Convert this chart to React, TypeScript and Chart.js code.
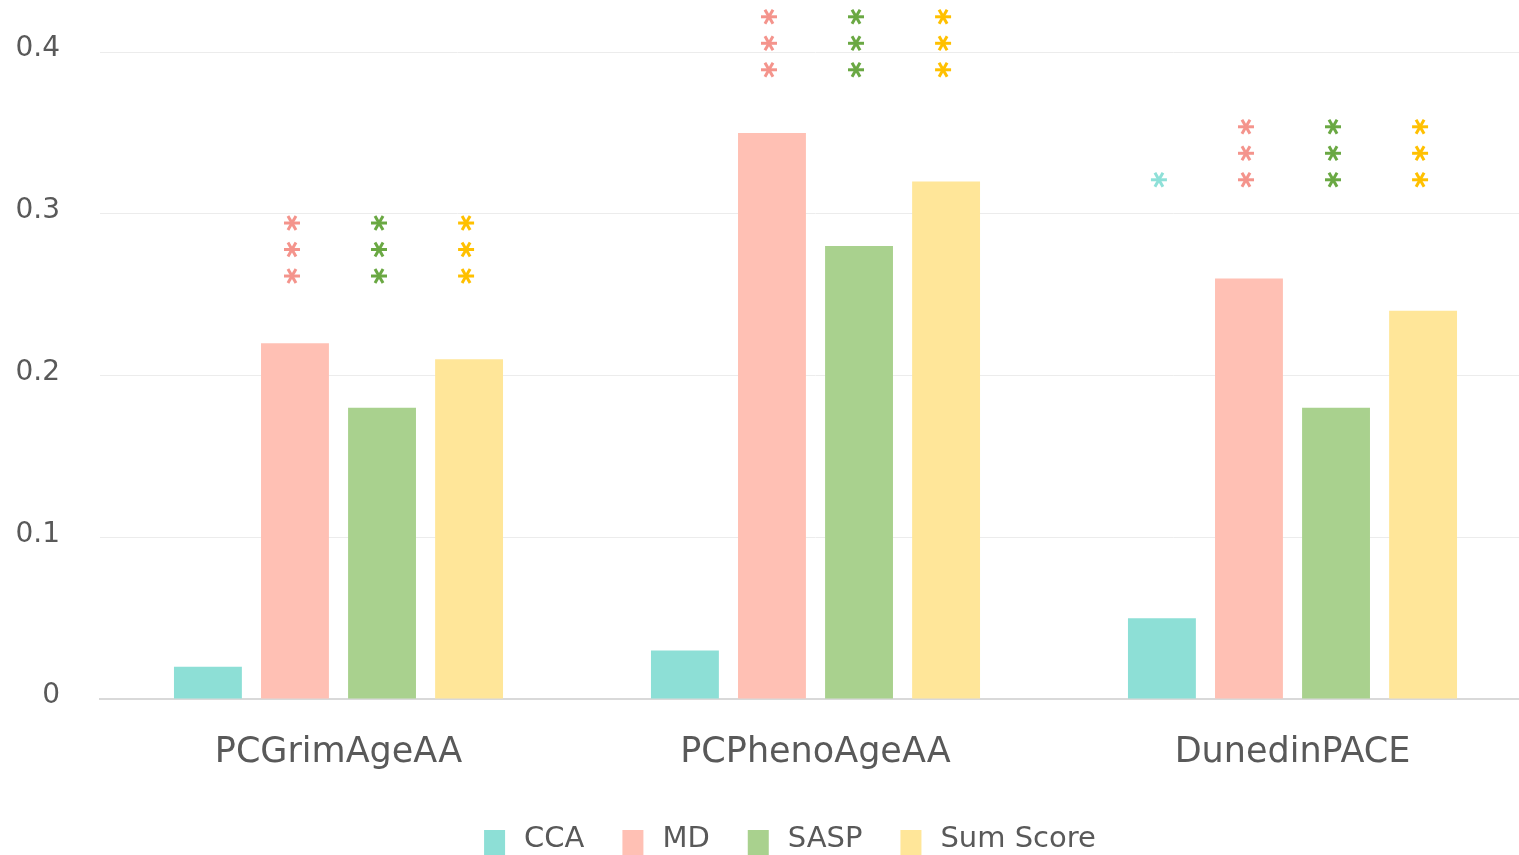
import React, { useEffect, useRef } from "react";
import { Chart, registerables } from "chart.js";

Chart.register(...registerables);

const categories = ["PCGrimAgeAA", "PCPhenoAgeAA", "DunedinPACE"];
const seriesNames = ["CCA", "MD", "SASP", "Sum Score"];
const ccaValues = [0.02, 0.03, 0.05];
const mdValues = [0.22, 0.35, 0.26];
const saspValues = [0.18, 0.28, 0.18];
const sumValues = [0.21, 0.32, 0.24];
const yTicks = [0, 0.1, 0.2, 0.3, 0.4];

// significance stars per series per category
const ccaStars = [0, 0, 1];
const mdStars = [3, 3, 3];
const saspStars = [3, 3, 3];
const sumStars = [3, 3, 3];
// value level of the lowest star row in each category
const starBase = [0.2615, 0.389, 0.321];

const barColors = ["#8ddfd6", "#ffc0b4", "#a9d18e", "#ffe699"];
const starColors = ["#8ee0d8", "#f4948c", "#6aa843", "#ffc000"];

const FONT = "'DejaVu Sans', 'Noto Sans', sans-serif";
const TEXT = "#595959";

const starPlugin = {
  id: "stars",
  afterDatasetsDraw(chart: any) {
    const ctx = chart.ctx;
    const yScale = chart.scales.y;
    const allStars = [ccaStars, mdStars, saspStars, sumStars];
    ctx.save();
    allStars.forEach((counts, i) => {
      const meta = chart.getDatasetMeta(i);
      counts.forEach((n, j) => {
        const bar = meta.data[j];
        if (!bar) return;
        const x = bar.x - 3;
        const baseY = yScale.getPixelForValue(starBase[j]);
        for (let k = 0; k < n; k++) {
          const y = baseY - k * 26.5;
          ctx.strokeStyle = starColors[i];
          ctx.lineWidth = 3;
          const r = 8;
          [0, 60, 120].forEach((deg) => {
            const a = (deg * Math.PI) / 180;
            ctx.beginPath();
            ctx.moveTo(x - r * Math.cos(a), y - r * Math.sin(a));
            ctx.lineTo(x + r * Math.cos(a), y + r * Math.sin(a));
            ctx.stroke();
          });
        }
      });
    });
    ctx.restore();
  },
};

const legendPlugin = {
  id: "customLegend",
  afterDraw(chart: any) {
    const ctx = chart.ctx;
    ctx.save();
    ctx.font = `29px ${FONT}`;
    const boxW = 21, boxH = 25, boxGap = 19, itemGap = 38;
    const widths = seriesNames.map((n) => ctx.measureText(n).width);
    const total =
      widths.reduce((a, b) => a + b, 0) +
      seriesNames.length * (boxW + boxGap) +
      (seriesNames.length - 1) * itemGap;
    let x = 790 - total / 2;
    ctx.textBaseline = "middle";
    ctx.textAlign = "left";
    seriesNames.forEach((n, i) => {
      ctx.fillStyle = barColors[i];
      ctx.fillRect(x, 830, boxW, boxH);
      x += boxW + boxGap;
      ctx.fillStyle = TEXT;
      ctx.fillText(n, x, 839);
      x += widths[i] + itemGap;
    });
    ctx.restore();
  },
};

export default function App() {
  const ref = useRef<HTMLCanvasElement>(null);
  useEffect(() => {
    document.body.style.margin = "0";
    document.body.style.overflow = "hidden";
    document.documentElement.style.overflow = "hidden";
    const values = [ccaValues, mdValues, saspValues, sumValues];
    const chart = new Chart(ref.current!, {
      type: "bar",
      data: {
        labels: categories,
        datasets: seriesNames.map((name, i) => ({
          label: name,
          data: values[i],
          backgroundColor: barColors[i],
          borderWidth: 0,
          categoryPercentage: 0.73,
          barPercentage: 0.78,
        })),
      },
      plugins: [starPlugin, legendPlugin],
      options: {
        animation: false,
        responsive: false,
        layout: { padding: { top: 52, right: 0, left: 0, bottom: 0 } },
        plugins: {
          tooltip: { enabled: false },
          legend: { display: false },
        },
        scales: {
          x: {
            grid: { display: false, drawTicks: false },
            border: { display: true, color: "#d9d9d9", width: 2 },
            ticks: { font: { family: FONT, size: 35 }, color: TEXT, padding: 33 },
            afterFit: (scale: any) => {
              scale.height = 156;
            },
          },
          y: {
            min: 0,
            max: 0.4,
            afterBuildTicks: (scale: any) => {
              scale.ticks = yTicks.map((v) => ({ value: v }));
            },
            ticks: {
              font: { family: FONT, size: 28, lineHeight: 0.85 },
              color: TEXT,
              padding: 40,
              labelOffset: -3,
              callback: (v: any) => (v === 0 ? "0" : String(v)),
            },
            grid: { color: "#ececec", lineWidth: 1, drawTicks: false },
            border: { display: false },
            afterFit: (scale: any) => {
              scale.width = 100;
            },
          },
        },
      },
    });
    return () => chart.destroy();
  }, []);
  return (
    <div style={{ position: "relative" }}>
      <canvas ref={ref} width={1531} height={855} style={{ display: "block" }} />
    </div>
  );
}
